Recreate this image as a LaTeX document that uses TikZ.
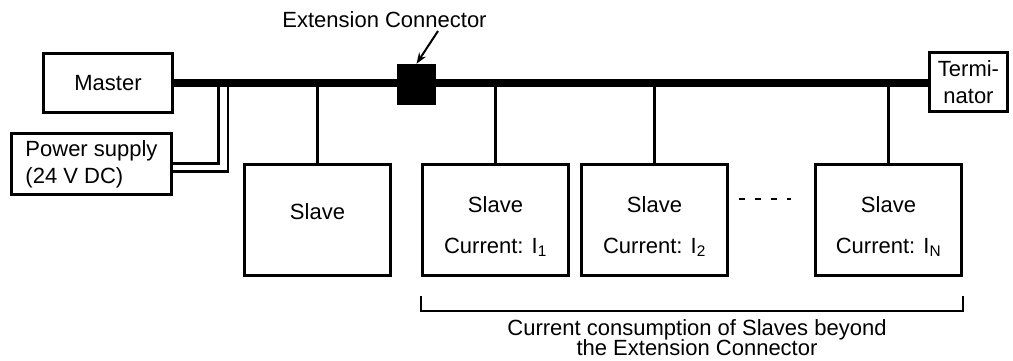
\documentclass[tikz,border=0pt]{standalone}
\usepackage{fontspec}
\setmainfont{Liberation Sans}
\usetikzlibrary{arrows.meta}
\tikzset{
  >={Stealth[length=11pt,width=8pt]},
  unitbox/.style={draw,line width=2.8pt,inner sep=0pt},
  slavebox/.style={unitbox,minimum width=146pt,minimum height=111pt},
  busline/.style={line width=8pt},
  dropline/.style={line width=3pt},
  pwrline/.style={line width=2.4pt},
  extconn/.style={fill=black,draw=none,minimum width=39pt,minimum height=41pt,
    inner sep=0pt},
  callout/.style={->,line width=2pt},
  bracketline/.style={line width=2pt},
  gapdash/.style={line width=1.5pt,dash pattern=on 6pt off 10pt},
  txt/.style={inner sep=0pt},
}
\begin{document}
\begin{tikzpicture}[x=1pt,y=-1pt,font=\fontsize{22}{27}\selectfont]
  \useasboundingbox (0,0) rectangle (1013,360);
  % master, supply, terminator
  \node[unitbox,minimum width=129pt,minimum height=59pt] (master) at (108,83) {Master};
  \node[unitbox,minimum width=160pt,minimum height=61pt,align=left] (psu)
    at (91.5,164) {Power supply\\(24 V DC)};
  \node[unitbox,minimum width=78pt,minimum height=59pt,align=center] (term)
    at (968.5,82) {Termi-\\nator};
  % slaves
  \node[slavebox] (s0) at (317.5,220) {};
  \node[txt,anchor=base] (s0name) at ([yshift=1pt]s0.center) {Slave};
  \foreach \n/\x in {1/495.5,2/654.5,N/888.5}{
    \node[slavebox] (s\n) at (\x,220) {};
    \node[txt,anchor=base] (s\n name) at ([yshift=8pt]s\n.center) {Slave};
    \node[txt,anchor=base] (s\n cur) at ([yshift=-33pt]s\n.center)
      {Current: I\textsubscript{\n}};
  }
  % drops and power feed
  \foreach \n in {0,1,2,N}
    \draw[dropline] (s\n.north) -- (s\n.north |- master.east);
  \coordinate (tapA) at (218.5,83);
  \coordinate (tapB) at (228,83);
  \draw[pwrline] ([yshift=0.5pt]psu.east) -| (tapA);
  \draw[pwrline] ([yshift=-7.5pt]psu.east) -| (tapB);
  % bus
  \draw[busline] (master.east) -- (master.east -| term.west);
  \node[extconn] (ext) at (416.5,84.5) {};
  \node[txt,anchor=base] (extlbl) at (384.5,27) {Extension Connector};
  \coordinate (callfrom) at ([xshift=53.5pt,yshift=-4pt]extlbl.base);
  \draw[callout] (callfrom) -- (ext.north);
  % more slaves, bracket
  \draw[gapdash] ([xshift=10pt,yshift=21pt]s2.east) -- ([xshift=-23pt,yshift=21pt]sN.west);
  \draw[bracketline] ([yshift=-19.5pt]s1.south west) -- ([yshift=-34.5pt]s1.south west)
    -- ([yshift=-34.5pt]sN.south east) -- ([yshift=-19.5pt]sN.south east);
  \node[txt,anchor=north,align=center] (sumlbl) at (697,319)
    {Current consumption of Slaves beyond\\[-7pt]the Extension Connector};
\end{tikzpicture}
\end{document}
